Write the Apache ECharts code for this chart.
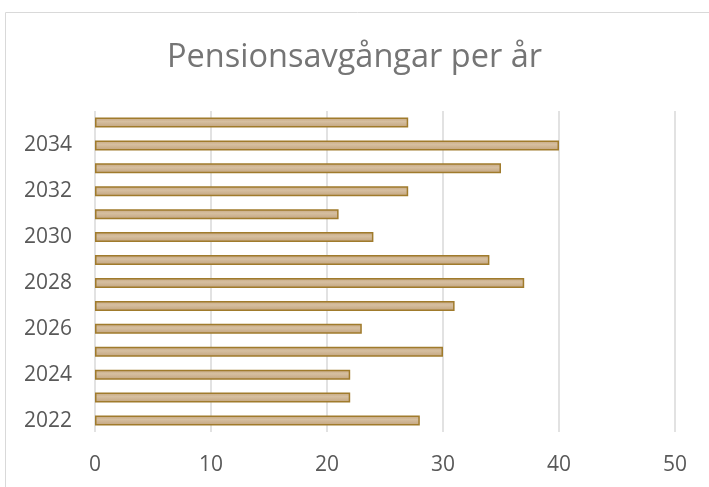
<!DOCTYPE html>
<html>
<head>
<meta charset="utf-8">
<script src="https://cdn.jsdelivr.net/npm/echarts@6/dist/echarts.min.js"></script>
<style>
html, body { margin: 0; padding: 0; background: #fff; }
#main { width: 709px; height: 487px; }
</style>
</head>
<body>
<div id="main"></div>
<script>
var years = ['2022', '2023', '2024', '2025', '2026', '2027', '2028', '2029', '2030', '2031', '2032', '2033', '2034', '2035'];
var retirements = [28, 22, 22, 30, 23, 31, 37, 34, 24, 21, 27, 35, 40, 27];
var xTicks = { min: 0, max: 50, step: 10 };

var myChart = echarts.init(document.getElementById('main'));

var option = {
    animation: false,
    title: {
        text: 'Pensionsavgångar per år',
        left: 'center',
        top: 36,
        textStyle: {
            fontFamily: 'Open Sans',
            fontWeight: 'normal',
            fontSize: 32.5,
            color: '#757575'
        }
    },
    // chart-area border
    graphic: [{
        type: 'rect',
        shape: { x: 5.5, y: 12.5, width: 720, height: 490 },
        style: { fill: 'none', stroke: '#d9d9d9', lineWidth: 1 },
        silent: true
    }],
    grid: {
        left: 95,
        right: 34,
        top: 111,
        bottom: 55
    },
    xAxis: {
        type: 'value',
        min: xTicks.min,
        max: xTicks.max,
        interval: xTicks.step,
        axisLine: { show: false },
        axisTick: { show: false },
        axisLabel: {
            color: '#595959',
            fontSize: 21,
            fontFamily: 'Open Sans',
            margin: 23
        },
        splitLine: {
            show: true,
            lineStyle: { color: '#d9d9d9', width: 1.5 }
        }
    },
    yAxis: {
        type: 'category',
        data: years,
        axisLine: { show: false },
        axisTick: { show: false },
        axisLabel: {
            interval: 1,
            color: '#595959',
            fontSize: 21,
            fontFamily: 'Open Sans',
            margin: 23
        },
        splitLine: { show: false }
    },
    series: [{
        name: 'Pensionsavgångar',
        type: 'bar',
        data: retirements,
        barWidth: 10,
        itemStyle: {
            color: {
                type: 'linear',
                x: 0, y: 0, x2: 0, y2: 1,
                colorStops: [
                    { offset: 0, color: '#c4a57f' },
                    { offset: 0.4, color: '#d6bfa0' },
                    { offset: 1, color: '#c2a47e' }
                ]
            },
            borderColor: '#a07b2c',
            borderWidth: 1.5
        }
    }]
};

myChart.setOption(option);
</script>
</body>
</html>
